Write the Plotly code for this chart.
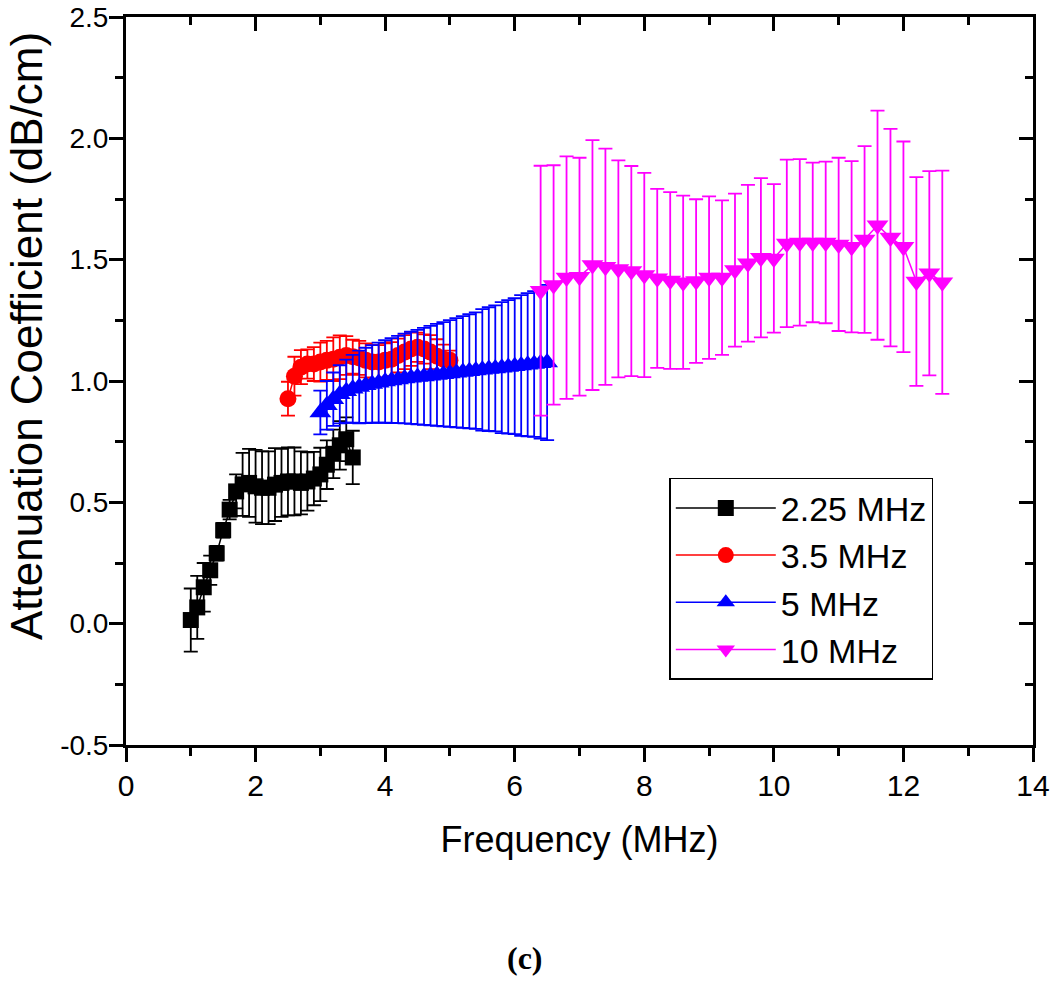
import plotly.graph_objects as go

# ---- data ----
black_x = [1.0, 1.1, 1.2, 1.3, 1.4, 1.5, 1.6, 1.7, 1.8, 1.9, 2.0, 2.1, 2.2, 2.3, 2.4, 2.5,
           2.6, 2.7, 2.8, 2.9, 3.0, 3.1, 3.2, 3.3, 3.4, 3.5]
black_y = [0.015, 0.067, 0.15, 0.22, 0.29, 0.385, 0.47, 0.545, 0.574, 0.58, 0.566, 0.56, 0.56,
           0.573, 0.58, 0.586, 0.586, 0.58, 0.586, 0.598, 0.615, 0.655, 0.70, 0.735, 0.76, 0.685]
black_err = [0.13, 0.13, 0.10, 0.06, 0.03, 0.03, 0.04, 0.07, 0.13, 0.14, 0.15, 0.15, 0.15,
             0.15, 0.14, 0.14, 0.14, 0.13, 0.12, 0.11, 0.11, 0.10, 0.10, 0.10, 0.09, 0.11]

red_x = [2.5, 2.6, 2.7, 2.8, 2.9, 3.0, 3.1, 3.2, 3.3, 3.4, 3.5, 3.6, 3.7, 3.8, 3.9, 4.0,
         4.1, 4.2, 4.3, 4.4, 4.5, 4.6, 4.7, 4.8, 4.9, 5.0]
red_y = [0.927, 1.02, 1.057, 1.07, 1.07, 1.078, 1.085, 1.09, 1.098, 1.105, 1.10, 1.095, 1.085,
         1.078, 1.078, 1.085, 1.09, 1.105, 1.119, 1.132, 1.139, 1.132, 1.119, 1.102, 1.09, 1.085]
red_err = [0.07, 0.08, 0.07, 0.06, 0.07, 0.08, 0.08, 0.09, 0.09, 0.08, 0.07, 0.07, 0.07,
           0.07, 0.07, 0.07, 0.07, 0.07, 0.07, 0.07, 0.06, 0.06, 0.07, 0.07, 0.06, 0.04]

blue_x = [3.0, 3.1, 3.2, 3.3, 3.4, 3.5, 3.6, 3.7, 3.8, 3.9, 4.0, 4.1, 4.2, 4.3, 4.4, 4.5,
          4.6, 4.7, 4.8, 4.9, 5.0, 5.1, 5.2, 5.3, 5.4, 5.5, 5.6, 5.7, 5.8, 5.9, 6.0, 6.1,
          6.2, 6.3, 6.4, 6.5]
blue_y = [0.87, 0.90, 0.925, 0.945, 0.958, 0.968, 0.975, 0.982, 0.988, 0.993, 0.998, 1.002,
          1.006, 1.01, 1.013, 1.016, 1.019, 1.022, 1.025, 1.028, 1.031, 1.034, 1.037, 1.04,
          1.043, 1.046, 1.049, 1.052, 1.055, 1.058, 1.061, 1.064, 1.067, 1.07, 1.073, 1.076]
blue_err = [0.09, 0.10, 0.11, 0.12, 0.13, 0.14, 0.15, 0.155, 0.16, 0.165, 0.17, 0.175, 0.18,
            0.185, 0.19, 0.195, 0.20, 0.205, 0.21, 0.215, 0.22, 0.225, 0.23, 0.235, 0.24,
            0.25, 0.255, 0.26, 0.27, 0.275, 0.28, 0.29, 0.295, 0.30, 0.31, 0.32]

mag_x = [6.4, 6.6, 6.8, 7.0, 7.2, 7.4, 7.6, 7.8, 8.0, 8.2, 8.4, 8.6, 8.8, 9.0, 9.2, 9.4,
         9.6, 9.8, 10.0, 10.2, 10.4, 10.6, 10.8, 11.0, 11.2, 11.4, 11.6, 11.8, 12.0, 12.2,
         12.4, 12.6]
mag_y = [1.372, 1.396, 1.426, 1.43, 1.478, 1.471, 1.462, 1.453, 1.437, 1.423, 1.414, 1.407,
         1.412, 1.426, 1.426, 1.457, 1.485, 1.508, 1.505, 1.567, 1.571, 1.571, 1.571, 1.563,
         1.553, 1.583, 1.642, 1.591, 1.553, 1.41, 1.444, 1.407]
mag_err = [0.515, 0.493, 0.50, 0.49, 0.515, 0.487, 0.447, 0.433, 0.421, 0.369, 0.364, 0.357,
           0.337, 0.335, 0.318, 0.315, 0.323, 0.328, 0.306, 0.345, 0.343, 0.329, 0.333, 0.357,
           0.353, 0.385, 0.472, 0.448, 0.434, 0.43, 0.421, 0.46]

series_names = ["2.25 MHz", "3.5 MHz", "5 MHz", "10 MHz"]

x_tick_vals = [0, 2, 4, 6, 8, 10, 12, 14]
x_tick_text = ["0", "2", "4", "6", "8", "10", "12", "14"]
y_tick_vals = [-0.5, 0.0, 0.5, 1.0, 1.5, 2.0, 2.5]
y_tick_text = ["-0.5", "0.0", "0.5", "1.0", "1.5", "2.0", "2.5"]

x_title = "Frequency (MHz)"
y_title = "Attenuation Coefficient (dB/cm)"
caption = "(c)"

# ---- figure ----
fig = go.Figure()

styles = [
    (black_x, black_y, black_err, "#000000", "square", 16),
    (red_x, red_y, red_err, "#FF0000", "circle", 17),
    (blue_x, blue_y, blue_err, "#0000FF", "triangle-up", 19),
    (mag_x, mag_y, mag_err, "#FF00FF", "triangle-down", 19),
]

for (xs, ys, es, col, sym, sz), name in zip(styles, series_names):
    fig.add_trace(go.Scatter(
        x=xs, y=ys, name=name, mode="lines+markers",
        line=dict(color=col, width=1.5),
        marker=dict(color=col, symbol=sym, size=sz, line=dict(width=0)),
        error_y=dict(type="data", array=es, visible=True, color=col,
                     thickness=1.8, width=7),
        cliponaxis=False,
    ))

# empty trace so the mirrored (top/right) frame axes get drawn
fig.add_trace(go.Scatter(x=[], y=[], xaxis="x2", yaxis="y2", showlegend=False,
                         hoverinfo="skip"))

axis_common = dict(showgrid=False, zeroline=False, showline=True, linecolor="black",
                   linewidth=3, tickcolor="black", tickwidth=3, ticklabeloverflow="allow",
                   automargin=False)

fig.update_layout(
    width=1050, height=989,
    margin=dict(l=126, r=17, t=17, b=244),
    plot_bgcolor="white", paper_bgcolor="white",
    font=dict(family="Liberation Sans, Arial, sans-serif", color="black"),
    xaxis=dict(range=[0, 14], tickmode="array", tickvals=x_tick_vals, ticktext=x_tick_text,
               ticks="outside", ticklen=14, ticklabelstandoff=-2,
               tickfont=dict(size=30),
               minor=dict(ticks="outside", ticklen=8, tickwidth=3, tickcolor="black",
                          tickmode="linear", tick0=0, dtick=1),
               title=dict(text=x_title, font=dict(size=36), standoff=26),
               **axis_common),
    yaxis=dict(range=[-0.5, 2.5], tickmode="array", tickvals=y_tick_vals, ticktext=y_tick_text,
               ticks="outside", ticklen=14, ticklabelstandoff=-5,
               tickfont=dict(size=28),
               minor=dict(ticks="outside", ticklen=8, tickwidth=3, tickcolor="black",
                          tickmode="linear", tick0=0, dtick=0.25),
               **axis_common),
    xaxis2=dict(overlaying="x", side="top", range=[0, 14], tickmode="array",
                tickvals=x_tick_vals, ticks="inside", ticklen=14, showticklabels=False,
                minor=dict(ticks="inside", ticklen=8, tickwidth=3, tickcolor="black",
                           tickmode="linear", tick0=0, dtick=1),
                **axis_common),
    yaxis2=dict(overlaying="y", side="right", range=[-0.5, 2.5], tickmode="array",
                tickvals=y_tick_vals, ticks="inside", ticklen=14, showticklabels=False,
                minor=dict(ticks="inside", ticklen=8, tickwidth=3, tickcolor="black",
                           tickmode="linear", tick0=0, dtick=0.25),
                **axis_common),
    legend=dict(x=0.599, y=0.367, xanchor="left", yanchor="top",
                bordercolor="black", borderwidth=1.5, bgcolor="white",
                font=dict(size=34), tracegroupgap=0, itemwidth=100),
    showlegend=True,
)

# y-axis title (placed off-centre, as in the original)
fig.add_annotation(text=y_title, xref="paper", yref="paper", x=-0.109, y=0.562,
                   textangle=-90, showarrow=False, xanchor="center", yanchor="middle",
                   font=dict(size=44, color="black"))

fig.add_annotation(text="<b>" + caption + "</b>", xref="paper", yref="paper",
                   x=0.44, y=-0.2926, xanchor="center", yanchor="middle",
                   showarrow=False, font=dict(family="Liberation Serif, Times New Roman, serif",
                                              size=32, color="black"))

fig.write_html("out.html", config={"displayModeBar": False},
               post_script="document.body.style.margin='0';")
